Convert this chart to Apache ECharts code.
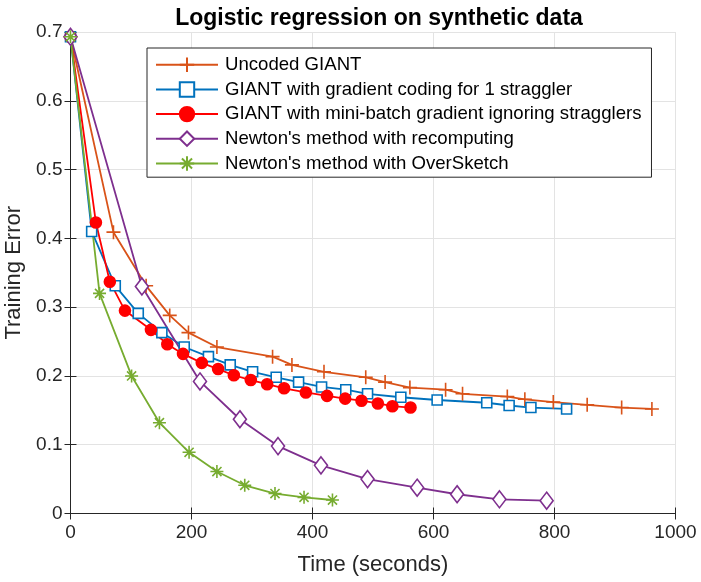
<!DOCTYPE html>
<html>
<head>
<meta charset="utf-8">
<script src="https://cdn.jsdelivr.net/npm/echarts@6/dist/echarts.min.js"></script>
<style>
  html, body { margin: 0; padding: 0; background: #fff; }
  #chart { width: 701px; height: 582px; }
</style>
</head>
<body>
<div id="chart"></div>
<script>
// 数据
var seriesNames = [
  'Uncoded GIANT',
  'GIANT with gradient coding for 1 straggler',
  'GIANT with mini-batch gradient ignoring stragglers',
  "Newton's method with recomputing",
  "Newton's method with OverSketch"
];

var uncodedTime = [0, 71, 125, 164, 195, 242, 334, 366, 419, 488, 520, 561, 620, 648, 722, 751, 798, 854, 911, 961];
var uncodedErr  = [0.693, 0.409, 0.331, 0.288, 0.263, 0.242, 0.228, 0.216, 0.206, 0.198, 0.191, 0.183, 0.180, 0.174, 0.170, 0.166, 0.162, 0.158, 0.154, 0.152];

var codedTime = [0, 35, 74, 112, 151, 188, 228, 264, 301, 340, 377, 415, 455, 491, 546, 606, 688, 725, 761, 820];
var codedErr  = [0.693, 0.410, 0.331, 0.291, 0.263, 0.242, 0.228, 0.216, 0.206, 0.198, 0.191, 0.184, 0.180, 0.174, 0.169, 0.165, 0.161, 0.157, 0.154, 0.152];

var miniTime = [0, 42, 65, 90, 133, 160, 186, 217, 244, 270, 298, 325, 353, 389, 424, 454, 481, 508, 532, 562];
var miniErr  = [0.693, 0.423, 0.337, 0.295, 0.267, 0.246, 0.232, 0.219, 0.210, 0.201, 0.194, 0.188, 0.182, 0.176, 0.171, 0.167, 0.164, 0.160, 0.156, 0.154];

var recompTime = [0, 118, 214, 280, 343, 414, 491, 573, 639, 709, 787];
var recompErr  = [0.693, 0.330, 0.192, 0.137, 0.098, 0.070, 0.050, 0.0375, 0.028, 0.0206, 0.0186];

var sketchTime = [0, 48, 101, 147, 196, 242, 288, 338, 386, 433];
var sketchErr  = [0.693, 0.320, 0.200, 0.132, 0.089, 0.061, 0.041, 0.029, 0.0235, 0.0196];

var xTicks = [0, 200, 400, 600, 800, 1000];
var yTicks = [0, 0.1, 0.2, 0.3, 0.4, 0.5, 0.6, 0.7];

function pairs(xs, ys) {
  return xs.map(function (x, i) { return [x, ys[i]]; });
}

var colors = ['#D95319', '#0072BD', '#FF0000', '#7E2F8E', '#77AC30'];
var axisColor = '#262626';
var font = "'Liberation Sans', Arial, Helvetica, sans-serif";

var plusPath = 'path://M5,0L5,10M0,5L10,5';
var starPath = 'path://M5,0L5,10M0,5L10,5M1.5,1.5L8.5,8.5M1.5,8.5L8.5,1.5';

function makeSeries(i, data, symbol, size, fill) {
  return {
    name: seriesNames[i],
    type: 'line',
    data: data,
    symbol: symbol,
    symbolSize: size,
    showAllSymbol: true,
    animation: false,
    lineStyle: { color: colors[i], width: 1.8 },
    itemStyle: { color: fill, borderColor: colors[i], borderWidth: 1.6 },
    emphasis: { disabled: true }
  };
}

var chart = echarts.init(document.getElementById('chart'));
var option = {
  backgroundColor: '#fff',
  textStyle: { fontFamily: font },
  title: {
    text: 'Logistic regression on synthetic data',
    left: 374,
    textAlign: 'center',
    top: 2,
    textStyle: { fontFamily: font, fontSize: 23, fontWeight: 'bold', color: '#000' }
  },
  grid: { left: 70.5, right: 25.5, top: 32, bottom: 68.5, outerBoundsMode: 'none', containLabel: false },
  legend: {
    orient: 'vertical',
    left: 147,
    top: 48,
    padding: [7, 10, 4, 8],
    itemGap: 5.6,
    itemWidth: 62,
    itemHeight: 18,
    backgroundColor: '#fff',
    borderColor: axisColor,
    borderWidth: 1,
    borderRadius: 0,
    textStyle: { fontFamily: font, fontSize: 18.6, color: '#000', lineHeight: 18, padding: [0, 0, 0, 2] },
    data: seriesNames
  },
  xAxis: [{
    type: 'value',
    min: 0, max: 1000, interval: 200,
    name: 'Time (seconds)',
    nameLocation: 'middle',
    nameGap: 40,
    nameTextStyle: { fontFamily: font, fontSize: 22, color: axisColor },
    axisLine: { show: true, lineStyle: { color: axisColor, width: 1 } },
    axisTick: { show: true, inside: true, length: 6, lineStyle: { color: axisColor } },
    axisLabel: { fontFamily: font, fontSize: 19, color: axisColor, margin: 10,
      formatter: function (v) { return xTicks.indexOf(v) >= 0 ? String(v) : ''; } },
    splitLine: { show: true, lineStyle: { color: '#e3e3e3', width: 1 } }
  }, {
    type: 'value',
    position: 'top',
    min: 0, max: 1000, interval: 200,
    axisLine: { show: true, lineStyle: { color: axisColor, width: 1 } },
    axisTick: { show: true, inside: true, length: 6, lineStyle: { color: axisColor } },
    axisLabel: { show: false },
    splitLine: { show: false }
  }],
  yAxis: [{
    type: 'value',
    min: 0, max: 0.7, interval: 0.1,
    name: 'Training Error',
    nameLocation: 'middle',
    nameGap: 44,
    nameTextStyle: { fontFamily: font, fontSize: 22, color: axisColor },
    axisLine: { show: true, lineStyle: { color: axisColor, width: 1 } },
    axisTick: { show: true, inside: true, length: 6, lineStyle: { color: axisColor } },
    axisLabel: { fontFamily: font, fontSize: 19, color: axisColor, margin: 8,
      formatter: function (v) {
        var r = Math.round(v * 10) / 10;
        return yTicks.indexOf(r) >= 0 ? String(r) : '';
      } },
    splitLine: { show: true, lineStyle: { color: '#e3e3e3', width: 1 } }
  }, {
    type: 'value',
    position: 'right',
    min: 0, max: 0.7, interval: 0.1,
    axisLine: { show: true, lineStyle: { color: axisColor, width: 1 } },
    axisTick: { show: true, inside: true, length: 6, lineStyle: { color: axisColor } },
    axisLabel: { show: false },
    splitLine: { show: false }
  }],
  series: [
    makeSeries(0, pairs(uncodedTime, uncodedErr), plusPath, 14, 'none'),
    makeSeries(1, pairs(codedTime, codedErr), 'rect', 10, '#fff'),
    makeSeries(2, pairs(miniTime, miniErr), 'circle', 11, colors[2]),
    makeSeries(3, pairs(recompTime, recompErr), 'diamond', [13, 17], '#fff'),
    makeSeries(4, pairs(sketchTime, sketchErr), starPath, 13, 'none')
  ]
};
chart.setOption(option);
</script>
</body>
</html>
